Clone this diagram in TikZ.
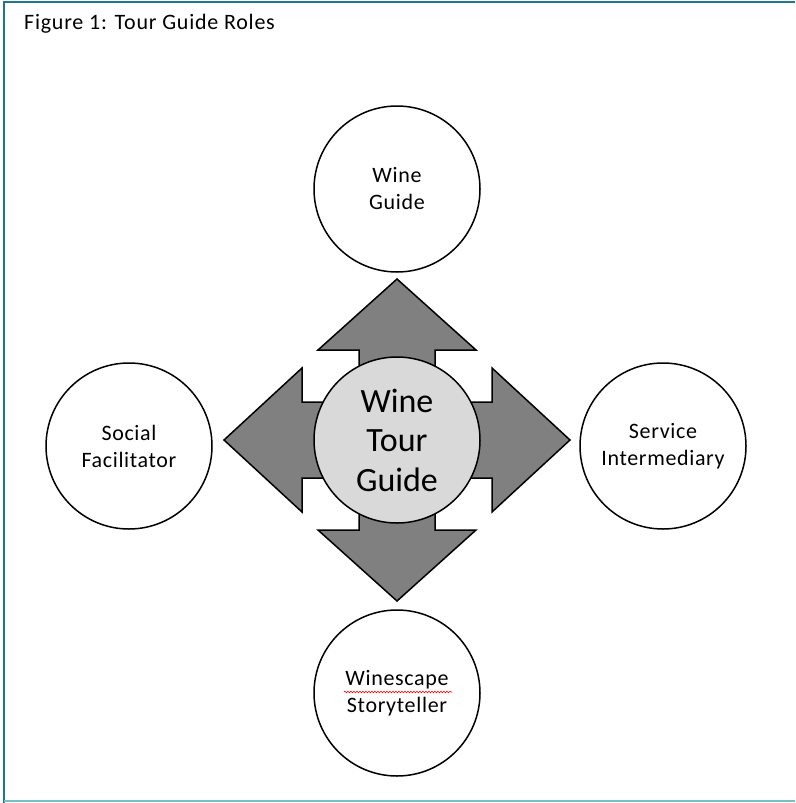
\documentclass[tikz,border=0pt]{standalone}
\usepackage{fontspec}
\setmainfont{Carlito}
\usetikzlibrary{decorations.pathmorphing}
\definecolor{frameteal}{RGB}{30,120,135}
\definecolor{framelight}{RGB}{120,190,200}
\begin{document}
\begin{tikzpicture}[x=1pt,y=-1pt,
  role/.style={circle,draw,line width=1.5pt,minimum size=166pt,inner sep=0pt,align=center,
    font=\fontsize{22}{27}\selectfont\addfontfeatures{LetterSpace=3}},
  hub/.style={role,fill=black!15,font=\fontsize{34}{39.5}\selectfont},
  bigarrow/.style={fill=black!50,draw,line width=1.5pt,line join=miter}]
\useasboundingbox (0,0) rectangle (795,803);
% frame
\draw[line width=2.5pt,frameteal] (4,803) -- (4,2) -- (795,2);
\draw[line width=2pt,framelight] (4,801) -- (795,801);
\node[anchor=base west,inner sep=0pt,font=\fontsize{22}{25}\selectfont\addfontfeatures{LetterSpace=3.5}]
  (title) at (24,29) {Figure 1: Tour Guide Roles};
% arrows (angle/tip/head base/head half width)
\foreach \a/\t/\b/\w in {0/161/90/79, 180/161/90/79, 90/173/95/72, 270/173/95/72}
  \draw[bigarrow,shift={(397,440)},rotate=\a]
    (-38,0) -- (-38,-\b) -- (-\w,-\b) -- (0,-\t) -- (\w,-\b) -- (38,-\b) -- (38,0) -- cycle;
% roles
\node[hub] (guide) at (397,440) {Wine\\Tour\\Guide};
\node[role] (wine) at (397,189) {Wine\\Guide};
\node[role] (story) at (397,693) {Winescape\\Storyteller};
\node[role] (social) at (129,446) {Social\\Facilitator};
\node[role] (service) at (663,446) {Service\\Intermediary};
\draw[red,line width=0.6pt,decorate,decoration={snake,amplitude=0.8pt,segment length=3pt}]
  (344,692) -- (452,692);
\end{tikzpicture}
\end{document}
